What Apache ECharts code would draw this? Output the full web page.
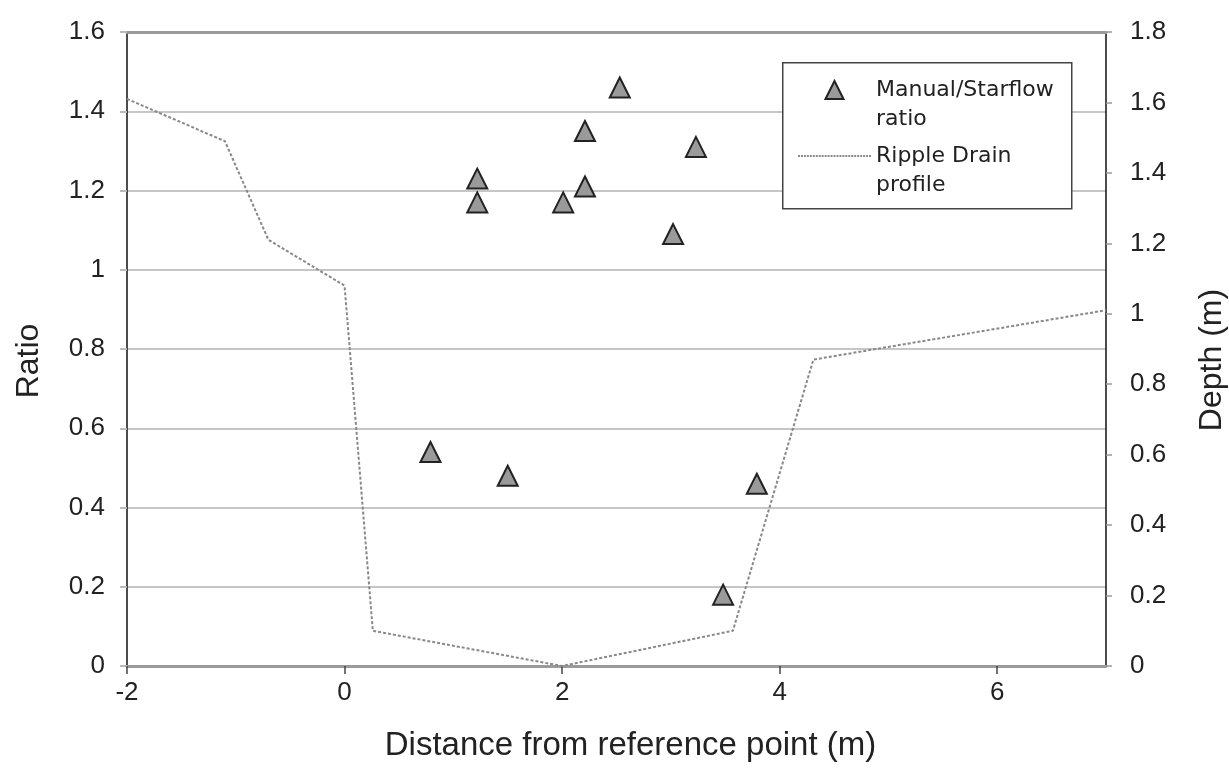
<!DOCTYPE html>
<html><head><meta charset="utf-8">
<script src="https://cdn.jsdelivr.net/npm/echarts@6/dist/echarts.min.js"></script>
<style>html,body{margin:0;padding:0;background:#fff}#c{width:1229px;height:774px}</style>
</head><body><div id="c"></div>
<script>
// Manual/Starflow ratio points (x = distance, y = ratio)
const ratioX = [1.22, 1.22, 2.01, 2.21, 2.21, 2.53, 3.23, 3.02, 0.79, 1.50, 3.79, 3.48];
const ratioY = [1.23, 1.17, 1.17, 1.21, 1.35, 1.46, 1.31, 1.09, 0.54, 0.48, 0.46, 0.18];
// Ripple Drain profile (x = distance, depth in m, right axis)
const profileX = [-2, -1.10, -0.70, 0.0, 0.26, 2.0, 3.57, 4.31, 7];
const profileDepth = [1.61, 1.49, 1.21, 1.08, 0.10, 0.0, 0.10, 0.87, 1.01];
const seriesNames = ['Manual/Starflow ratio', 'Ripple Drain profile'];
const legendLabels = ['Manual/Starflow\nratio', 'Ripple Drain\nprofile'];
const xAxisName = 'Distance from reference point (m)';
const yLeftName = 'Ratio';
const yRightName = 'Depth (m)';

const FONT = 'Liberation Sans, Arial, sans-serif';
const chart = echarts.init(document.getElementById('c'), null, {renderer: 'canvas'});
const scatterData = ratioX.map((x, i) => [x, ratioY[i]]);
const lineData = profileX.map((x, i) => [x, profileDepth[i]]);

// legend icons: dotted line (row of small squares) and a centred triangle in a 73x18 box
let dotPath = 'path://';
for (let i = 0; i < 25; i++) dotPath += 'M' + (i * 3) + ',0h2v2h-2Z';
const triPath = 'path://M0,0M73,18M27.5,18L36.5,0L45.5,18Z';

chart.setOption({
  animation: false,
  backgroundColor: '#fff',
  textStyle: {fontFamily: FONT},
  grid: {left: 127, right: 123, top: 32, bottom: 108, outerBoundsMode: 'none', containLabel: false},
  graphic: [{
    type: 'rect', left: 782, top: 62, z: 10,
    shape: {width: 289, height: 146},
    style: {fill: '#fff', stroke: '#444', lineWidth: 1.5}
  }],
  legend: {
    orient: 'vertical', left: 797, top: 46.5, z: 20,
    padding: 0, itemWidth: 73, itemHeight: 18, itemGap: -21,
    selectedMode: false,
    formatter: name => '\u00a0\n' + legendLabels[seriesNames.indexOf(name)],
    textStyle: {fontSize: 22, fontFamily: 'DejaVu Sans', color: '#222', lineHeight: 29},
    data: [
      {name: seriesNames[0], icon: triPath, itemStyle: {color: '#9a9a9a', borderColor: '#222', borderWidth: 2}},
      {name: seriesNames[1], icon: dotPath, itemStyle: {color: '#888', borderWidth: 0}}
    ]
  },
  xAxis: [{
    type: 'value', min: -2, max: 7, interval: 2,
    name: xAxisName, nameLocation: 'middle', nameGap: 63,
    nameTextStyle: {fontSize: 33, color: '#222', fontFamily: FONT, padding: [0, 0, 0, 28]},
    axisLine: {show: true, onZero: false, lineStyle: {color: '#9a9a9a', width: 3}},
    axisTick: {show: true, length: 8, lineStyle: {color: '#444', width: 1.5}},
    axisLabel: {fontSize: 26, color: '#222', margin: 14, showMaxLabel: false, fontFamily: FONT},
    splitLine: {show: false}
  }, {
    type: 'value', position: 'top', min: -2, max: 7, interval: 2,
    axisLine: {show: true, onZero: false, lineStyle: {color: '#9a9a9a', width: 3}},
    axisTick: {show: false}, axisLabel: {show: false}, splitLine: {show: false}
  }],
  yAxis: [{
    type: 'value', min: 0, max: 1.6, interval: 0.2, position: 'left',
    name: yLeftName, nameLocation: 'middle', nameGap: 82,
    nameTextStyle: {fontSize: 32, color: '#222', fontFamily: FONT, padding: [0, 24, 0, 0]},
    axisLine: {show: true, onZero: false, lineStyle: {color: '#111', width: 1.5}},
    axisTick: {show: true, length: 7, lineStyle: {color: '#bbb', width: 2}},
    axisLabel: {fontSize: 26, color: '#222', margin: 22, fontFamily: FONT},
    splitLine: {show: true, lineStyle: {color: '#c6c6c6', width: 2}}
  }, {
    type: 'value', min: 0, max: 1.8, interval: 0.2, position: 'right',
    name: yRightName, nameLocation: 'middle', nameGap: 90,
    nameTextStyle: {fontSize: 32, color: '#222', fontFamily: FONT, padding: [0, 22, 0, 0]},
    axisLine: {show: true, onZero: false, lineStyle: {color: '#111', width: 1.5}},
    axisTick: {show: true, length: 6, lineStyle: {color: '#999', width: 1.5}},
    axisLabel: {fontSize: 26, color: '#222', margin: 24, fontFamily: FONT},
    splitLine: {show: false}
  }],
  series: [{
    name: seriesNames[0], type: 'scatter', xAxisIndex: 0, yAxisIndex: 0, z: 5,
    symbol: 'triangle', symbolSize: 20,
    itemStyle: {color: '#9a9a9a', borderColor: '#222', borderWidth: 2, opacity: 1},
    data: scatterData
  }, {
    name: seriesNames[1], type: 'line', xAxisIndex: 0, yAxisIndex: 1, z: 3,
    symbol: 'none', showSymbol: false,
    lineStyle: {color: '#888', width: 2, type: [3, 2]},
    itemStyle: {color: '#888'},
    data: lineData
  }]
});
</script></body></html>
